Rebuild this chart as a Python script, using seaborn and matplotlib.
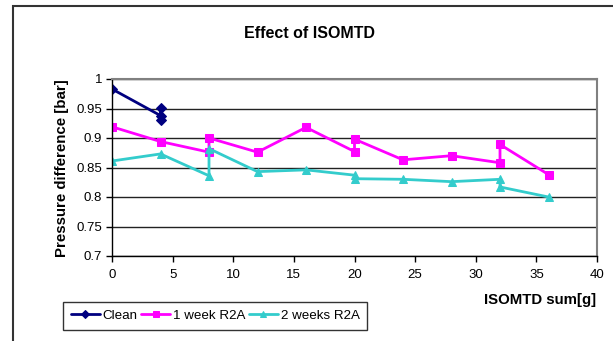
import matplotlib
matplotlib.use("Agg")
import matplotlib.pyplot as plt
import seaborn as sns
import pandas as pd
from matplotlib.patches import Rectangle

sns.set_theme(style="white")
plt.rcParams['font.family'] = ['Liberation Sans', 'DejaVu Sans']
plt.rcParams['text.color'] = 'black'
plt.rcParams['axes.labelcolor'] = 'black'
plt.rcParams['xtick.color'] = 'black'
plt.rcParams['ytick.color'] = 'black'

clean_x = [0, 4, 4, 4]
clean_y = [0.983, 0.938, 0.951, 0.931]
week1_x = [0, 4, 8, 8, 12, 16, 20, 20, 24, 28, 32, 32, 36]
week1_y = [0.919, 0.894, 0.876, 0.900, 0.876, 0.918, 0.877, 0.898, 0.863, 0.870, 0.858, 0.889, 0.838]
week2_x = [0, 4, 8, 8, 12, 16, 20, 20, 24, 28, 32, 32, 36]
week2_y = [0.861, 0.873, 0.836, 0.882, 0.843, 0.846, 0.837, 0.831, 0.830, 0.826, 0.830, 0.817, 0.800]

series = [
    ("Clean", clean_x, clean_y, "#000080", "D", 5),
    ("1 week R2A", week1_x, week1_y, "#FF00FF", "s", 5.5),
    ("2 weeks R2A", week2_x, week2_y, "#33CCCC", "^", 6),
]

fig = plt.figure(figsize=(6.13, 3.41), dpi=100)
ax = fig.add_axes([112/613, 1-256/341, (597-112)/613, (256-79)/341])

for name, xs, ys, col, mk, ms in series:
    df = pd.DataFrame({"x": xs, "y": ys})
    sns.lineplot(data=df, x="x", y="y", sort=False, estimator=None, ax=ax,
                 color=col, marker=mk, markersize=ms, markeredgecolor=col,
                 linewidth=2, label=name)

ax.set_xlim(0, 40)
ax.set_ylim(0.7, 1.0)
ax.set_xticks(range(0, 41, 5))
ax.set_yticks([0.7, 0.75, 0.8, 0.85, 0.9, 0.95, 1.0])
ax.set_yticklabels(["0.7", "0.75", "0.8", "0.85", "0.9", "0.95", "1"])
ax.tick_params(axis='both', labelsize=9.5, length=4, width=1, color='black', direction='out',
               pad=3, left=True, bottom=True)
ax.tick_params(axis='x', pad=5)
ax.yaxis.grid(True, color='#222222', linewidth=1)
ax.xaxis.grid(False)
ax.set_axisbelow(True)
for s in ['left', 'bottom']:
    ax.spines[s].set_color('black')
    ax.spines[s].set_linewidth(1)
for s in ['top', 'right']:
    ax.spines[s].set_color('#808080')
    ax.spines[s].set_linewidth(1.5)
ax.set_xlabel("")
ax.set_ylabel("")
fig.text(62/613, 1-168/341, "Pressure difference [bar]", rotation=90, ha='center', va='center',
         fontsize=10.8, fontweight='bold')

fig.text(310/613, 1-33/341, "Effect of ISOMTD", ha='center', va='center', fontsize=11.5, fontweight='bold')
fig.text(540/613, 1-300/341, "ISOMTD sum[g]", ha='center', va='center', fontsize=10.8, fontweight='bold')

ax.get_legend().remove()
handles, labels = ax.get_legend_handles_labels()
leg = fig.legend(handles, labels, loc='center', bbox_to_anchor=(215/613, 1-316/341), ncol=3,
                 fontsize=9.6, frameon=True, fancybox=False, edgecolor='black',
                 handlelength=2.2, handletextpad=0.2, columnspacing=0.25, borderpad=0.6,
                 markerscale=0.8)
leg.get_frame().set_linewidth(1)

fig.patches.append(Rectangle((13/613, -0.1), 1.2, 1-6/341+0.1, transform=fig.transFigure,
                             fill=False, edgecolor='#333333', linewidth=1.5))

fig.savefig("out.png", dpi=100)
